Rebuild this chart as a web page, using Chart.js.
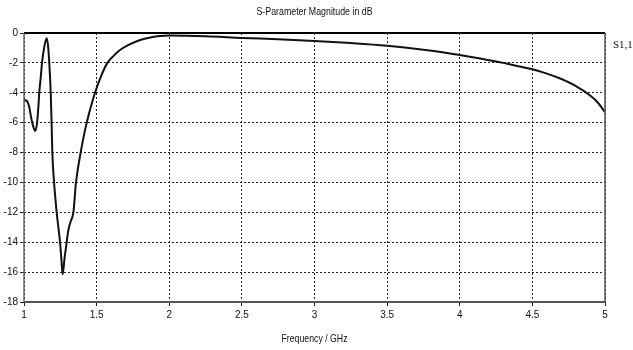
<!DOCTYPE html>
<html>
<head>
<meta charset="utf-8">
<script src="https://cdn.jsdelivr.net/npm/chart.js@4/dist/chart.umd.min.js"></script>
<style>
html,body{margin:0;padding:0;background:#fff;}
#wrap{width:633px;height:350px;}
</style>
</head>
<body>
<div id="wrap"><canvas id="c" width="633" height="350"></canvas></div>
<script>
const chartTitle = "S-Parameter Magnitude in dB";
const xAxisTitle = "Frequency / GHz";
const seriesName = "S1,1";
const xTicks = [1, 1.5, 2, 2.5, 3, 3.5, 4, 4.5, 5];
const yTicks = [-18, -16, -14, -12, -10, -8, -6, -4, -2, 0];

const freq = [
  1.00, 1.02, 1.035, 1.05, 1.065, 1.078, 1.09, 1.10, 1.105, 1.115, 1.124, 1.14, 1.156, 1.166, 1.174,
  1.184, 1.19, 1.195, 1.207, 1.225, 1.248, 1.258, 1.266, 1.28, 1.294, 1.305, 1.322, 1.34, 1.358,
  1.39, 1.42, 1.45, 1.489, 1.53, 1.574, 1.62, 1.661, 1.73, 1.80, 1.87, 1.936, 2.0, 2.25, 2.5,
  2.75, 3.0, 3.25, 3.5, 3.75, 4.0, 4.15, 4.3, 4.5, 4.6, 4.7, 4.8, 4.9, 4.95, 5.0
];
const s11 = [
  -4.48, -4.55, -4.9, -5.7, -6.3, -6.55, -6.0, -4.8, -4.0, -3.0, -2.0, -0.9, -0.35, -0.9, -2.0,
  -4.0, -6.0, -8.0, -10.0, -12.0, -14.0, -15.2, -16.15, -15.0, -14.0, -13.2, -12.6, -12.0, -10.0,
  -8.0, -6.5, -5.3, -4.0, -2.9, -2.0, -1.5, -1.14, -0.75, -0.47, -0.3, -0.2, -0.17, -0.22, -0.33,
  -0.42, -0.53, -0.67, -0.85, -1.12, -1.47, -1.72, -2.0, -2.43, -2.72, -3.08, -3.55, -4.2, -4.65, -5.3
];

const FONT = "'Liberation Sans',Arial,sans-serif";

function fitText(ctx, text, cx, cy, targetW) {
  const w = ctx.measureText(text).width;
  const s = Math.min(1, targetW / w);
  ctx.save();
  ctx.translate(cx, cy);
  ctx.scale(s, 1);
  ctx.fillText(text, 0, 0);
  ctx.restore();
}

const framePlugin = {
  id: 'frame',
  afterDraw(chart) {
    const ctx = chart.ctx, a = chart.chartArea;
    ctx.save();
    ctx.setLineDash([]);
    ctx.strokeStyle = '#000';
    ctx.lineWidth = 2;
    ctx.beginPath(); ctx.moveTo(a.left, a.top); ctx.lineTo(a.right, a.top); ctx.stroke();
    ctx.strokeStyle = '#555';
    ctx.lineWidth = 1.5;
    ctx.beginPath(); ctx.moveTo(a.right, a.top); ctx.lineTo(a.right, a.bottom); ctx.stroke();
    ctx.strokeStyle = '#666';
    ctx.beginPath(); ctx.moveTo(a.left, a.top); ctx.lineTo(a.left, a.bottom); ctx.stroke();
    ctx.strokeStyle = '#555';
    ctx.lineWidth = 2;
    ctx.beginPath(); ctx.moveTo(a.left, a.bottom); ctx.lineTo(a.right, a.bottom); ctx.stroke();
    ctx.fillStyle = '#111';
    ctx.textBaseline = 'middle';
    ctx.textAlign = 'center';
    ctx.font = "11px " + FONT;
    fitText(ctx, chartTitle, (a.left + a.right) / 2, 12, 116);
    fitText(ctx, xAxisTitle, (a.left + a.right) / 2, 339, 66);
    ctx.textAlign = 'left';
    ctx.font = "11px 'Liberation Serif',serif";
    ctx.fillText(seriesName, a.right + 8, 45);
    ctx.restore();
  }
};

new Chart(document.getElementById('c'), {
  type: 'line',
  data: {
    datasets: [{
      label: seriesName,
      data: freq.map((f, i) => ({x: f, y: s11[i]})),
      borderColor: '#111',
      borderWidth: 2,
      pointRadius: 0,
      fill: false,
      cubicInterpolationMode: 'monotone'
    }]
  },
  options: {
    responsive: false,
    animation: false,
    layout: {padding: {top: 33, right: 28, left: 0, bottom: 0}},
    plugins: {legend: {display: false}, title: {display: false}, tooltip: {enabled: false}},
    scales: {
      x: {
        type: 'linear',
        min: 1, max: 5,
        afterFit(s) { s.height = 48; },
        afterBuildTicks(s) { s.ticks = xTicks.map(v => ({value: v})); },
        ticks: {
          color: '#111', padding: 3, maxRotation: 0, autoSkip: false,
          font: {family: FONT, size: 10},
          callback: v => String(v)
        },
        grid: {color: '#222', lineWidth: 1, tickLength: 4, tickColor: '#222', drawTicks: true},
        border: {display: false, dash: [2, 2]}
      },
      y: {
        min: -18, max: 0,
        afterFit(s) { s.width = 24; },
        afterBuildTicks(s) { s.ticks = yTicks.map(v => ({value: v})); },
        ticks: {
          color: '#111', padding: 2, autoSkip: false,
          font: {family: FONT, size: 10},
          callback: v => String(v)
        },
        grid: {color: '#222', lineWidth: 1, tickLength: 4, tickColor: '#222', drawTicks: true},
        border: {display: false, dash: [2, 2]}
      }
    }
  },
  plugins: [framePlugin]
});
</script>
</body>
</html>
